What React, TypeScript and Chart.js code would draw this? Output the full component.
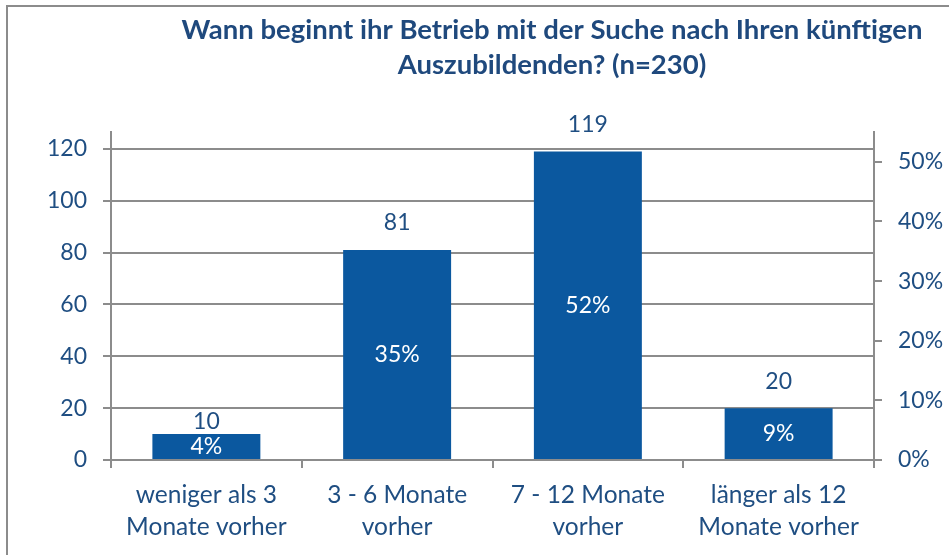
import React, { useEffect, useRef } from "react";
import { Chart, registerables } from "chart.js";
Chart.register(...registerables);

const titleLines = [
  "Wann beginnt ihr Betrieb mit der Suche nach Ihren künftigen",
  "Auszubildenden? (n=230)",
];
const categories = [
  ["weniger als 3", "Monate vorher"],
  ["3 - 6 Monate", "vorher"],
  ["7 - 12 Monate", "vorher"],
  ["länger als 12", "Monate vorher"],
];
const counts = [10, 81, 119, 20];
const percents = [4, 35, 52, 9];
const leftTicks = [0, 20, 40, 60, 80, 100, 120];
const rightTicks = [0, 10, 20, 30, 40, 50];

const FONT = "Lato, 'Open Sans', sans-serif";
const TEXT = "#1F4E82";
const TITLE = "#1F497D";
const GRID = "#8c8c8c";
const BAR = "#0B589F";

const titlePlugin = {
  id: "customTitle",
  afterDraw(chart: any) {
    const ctx = chart.ctx;
    ctx.save();
    ctx.font = `bold 27.5px ${FONT}`;
    ctx.fillStyle = TITLE;
    ctx.textAlign = "center";
    ctx.textBaseline = "alphabetic";
    ctx.fillText(titleLines[0], 552, 39);
    ctx.fillText(titleLines[1], 552, 74);
    ctx.restore();
  },
};

const labelPlugin = {
  id: "barLabels",
  afterDatasetsDraw(chart: any) {
    const ctx = chart.ctx;
    const meta = chart.getDatasetMeta(0);
    meta.data.forEach((bar: any, i: number) => {
      const { x, y, base } = bar.getProps(["x", "y", "base"], true);
      const h = base - y;
      ctx.save();
      ctx.font = `23px ${FONT}`;
      ctx.textAlign = "center";
      ctx.textBaseline = "middle";
      ctx.fillStyle = TEXT;
      ctx.fillText(String(counts[i]), x, y - (h < 40 ? 12 : 27));
      ctx.fillStyle = "#ffffff";
      ctx.fillText(percents[i] + "%", x, (y + base) / 2);
      ctx.restore();
    });
  },
};

export default function App() {
  const ref = useRef<HTMLCanvasElement>(null);
  useEffect(() => {
    if (!ref.current) return;
    const chart = new Chart(ref.current, {
      type: "bar",
      data: {
        labels: categories as any,
        datasets: [
          {
            data: counts,
            backgroundColor: BAR,
            borderWidth: 0,
            barPercentage: 0.566,
            categoryPercentage: 1,
            yAxisID: "y",
          },
        ],
      },
      options: {
        animation: false,
        responsive: true,
        maintainAspectRatio: false,
        layout: { padding: { top: 132, left: 0, right: 0, bottom: 0 } },
        plugins: {
          legend: { display: false },
          tooltip: { enabled: false },
          title: { display: false },
        },
        scales: {
          x: {
            grid: {
              display: true,
              drawOnChartArea: false,
              drawTicks: true,
              tickLength: 8,
              color: GRID,
              lineWidth: 2,
              offset: true,
            },
            border: { display: true, color: GRID, width: 2 },
            ticks: {
              color: TEXT,
              font: { family: FONT, size: 24.5, lineHeight: 1.3 },
              padding: 11,
              maxRotation: 0,
              autoSkip: false,
            },
            afterFit(s: any) {
              s.height = 95;
            },
          },
          y: {
            position: "left",
            min: 0,
            max: 126.5,
            afterBuildTicks(s: any) {
              s.ticks = leftTicks.map((v) => ({ value: v }));
            },
            grid: {
              color: GRID,
              lineWidth: 2,
              drawTicks: true,
              tickLength: 8,
            },
            border: { display: true, color: GRID, width: 2 },
            ticks: {
              color: TEXT,
              font: { family: FONT, size: 23 },
              padding: 16,
            },
            afterFit(s: any) {
              s.width = 111;
            },
          },
          y1: {
            position: "right",
            display: true,
            min: 0,
            max: 0.55,
            afterBuildTicks(s: any) {
              s.ticks = rightTicks.map((v) => ({ value: v / 100 }));
            },
            grid: {
              drawOnChartArea: false,
              color: GRID,
              lineWidth: 2,
              drawTicks: true,
              tickLength: 8,
            },
            border: { display: true, color: GRID, width: 2 },
            ticks: {
              color: TEXT,
              font: { family: FONT, size: 23 },
              padding: 16,
              callback: (v: any) => Math.round(Number(v) * 100) + "%",
            },
            afterFit(s: any) {
              s.width = 75;
            },
          },
        },
      },
      plugins: [titlePlugin, labelPlugin],
    });
    return () => chart.destroy();
  }, []);

  return (
    <div
      style={{
        position: "fixed",
        left: 0,
        top: 0,
        width: 949,
        height: 555,
        overflow: "hidden",
        background: "#fff",
      }}
    >
      <div
        style={{
          position: "absolute",
          left: 6,
          top: 5,
          width: 1000,
          height: 600,
          border: "2px solid #8c8c8c",
          boxSizing: "border-box",
        }}
      />
      <div style={{ position: "absolute", left: 0, top: 0, width: 949, height: 555 }}>
        <canvas ref={ref} />
      </div>
    </div>
  );
}
